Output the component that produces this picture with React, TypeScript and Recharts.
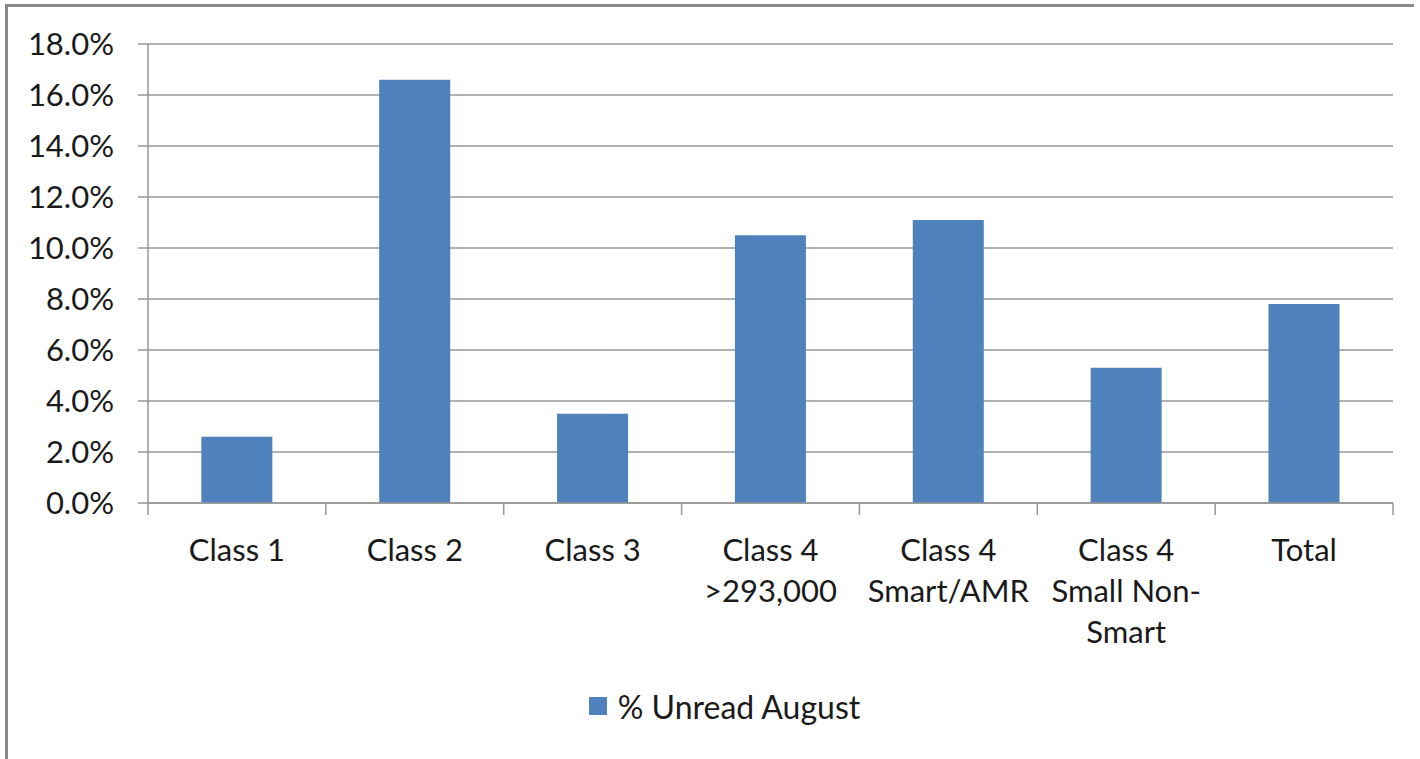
import { BarChart, Bar, XAxis, YAxis, CartesianGrid, Legend } from "recharts";

const categories = [
  "Class 1",
  "Class 2",
  "Class 3",
  "Class 4\n>293,000",
  "Class 4\nSmart/AMR",
  "Class 4\nSmall Non-\nSmart",
  "Total",
];
const unreadAugust = [2.6, 16.6, 3.5, 10.5, 11.1, 5.3, 7.8];
const yTicks = [0, 2, 4, 6, 8, 10, 12, 14, 16, 18];
const seriesName = "% Unread August";

const data = categories.map((name, i) => ({ name, value: unreadAugust[i] }));

const FONT = "Lato, 'Open Sans', sans-serif";
const TEXT = "#1a1a1a";
const GRID = "#979797";
const BLUE = "#4F81BD";

const CategoryTick = (props: any) => {
  const { x, y, payload, index, visibleTicksCount } = props;
  const half = payload?.offset ?? 0;
  const lines = String(payload.value).split("\n");
  const last = index === (visibleTicksCount ?? categories.length) - 1;
  return (
    <g>
      <line x1={x - half} x2={x - half} y1={y} y2={y + 12} stroke={GRID} strokeWidth={1.5} />
      {last && <line x1={x + half} x2={x + half} y1={y} y2={y + 12} stroke={GRID} strokeWidth={1.5} />}
      {lines.map((line, i) => (
        <text
          key={i}
          x={x}
          y={y + 46 + i * 41}
          textAnchor="middle"
          dominantBaseline="central"
          fill={TEXT}
          fontSize={31}
          fontFamily={FONT}
        >
          {line}
        </text>
      ))}
    </g>
  );
};

const LegendContent = () => (
  <div style={{ display: "flex", justifyContent: "center", alignItems: "center", height: 30, paddingLeft: 56 }}>
    <span style={{ width: 18, height: 18, background: BLUE, display: "inline-block", marginRight: 11 }} />
    <span style={{ fontSize: 32, fontFamily: FONT, color: TEXT }}>{seriesName}</span>
  </div>
);

export default function App() {
  return (
    <div style={{ position: "absolute", left: 0, top: 0, width: 1420, height: 759, background: "#fff", overflow: "hidden" }}>
      <div
        style={{
          position: "absolute",
          left: 5,
          top: 4,
          width: 1406,
          height: 800,
          borderLeft: "3px solid #8a8a8a",
          borderTop: "3px solid #8a8a8a",
        }}
      />
      <BarChart
        width={1420}
        height={759}
        data={data}
        margin={{ top: 44, right: 27, left: 0, bottom: 38 }}
        barCategoryGap="30%"
      >
        <CartesianGrid vertical={false} stroke={GRID} strokeWidth={1.5} />
        <XAxis
          dataKey="name"
          interval={0}
          height={188}
          tickLine={false}
          tickSize={0}
          tickMargin={0}
          axisLine={{ stroke: GRID, strokeWidth: 1.5 }}
          tick={<CategoryTick />}
        />
        <YAxis
          width={148}
          domain={[0, 18]}
          ticks={yTicks}
          tickFormatter={(v: number) => `${v.toFixed(1)}%`}
          tickSize={10}
          tickMargin={24}
          axisLine={{ stroke: GRID, strokeWidth: 1.5 }}
          tickLine={{ stroke: GRID, strokeWidth: 1.5 }}
          tick={{ fill: TEXT, fontSize: 31, fontFamily: FONT }}
        />
        <Legend verticalAlign="bottom" content={<LegendContent />} />
        <Bar dataKey="value" name={seriesName} fill={BLUE} isAnimationActive={false} />
      </BarChart>
    </div>
  );
}
